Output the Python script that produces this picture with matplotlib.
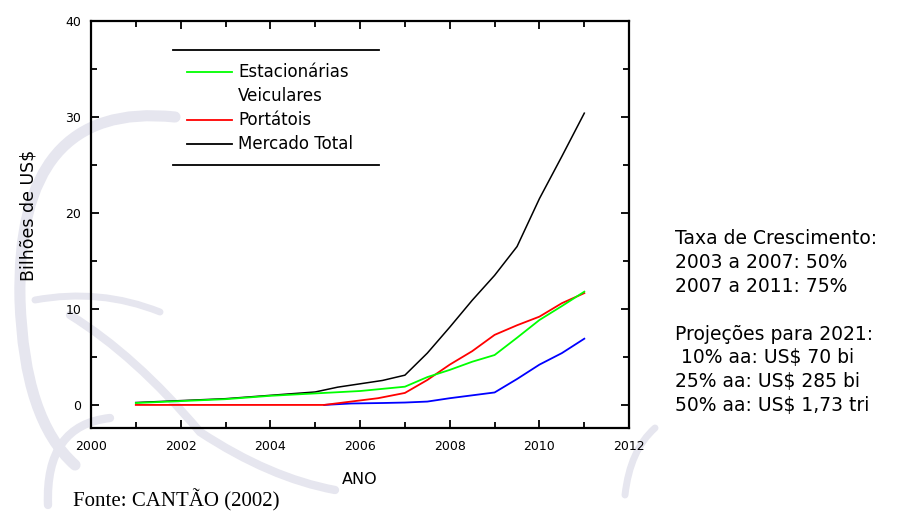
import matplotlib.pyplot as plt
from matplotlib.lines import Line2D
from matplotlib.patches import PathPatch
from matplotlib.path import Path
from matplotlib.ticker import MultipleLocator

# dados (bilhoes de US$)
anos_est = [2001, 2002, 2003, 2004, 2005, 2006, 2007, 2007.5, 2008, 2008.5, 2009, 2009.5, 2010, 2010.5, 2011]
estacionarias = [0.2, 0.4, 0.6, 0.95, 1.2, 1.45, 1.9, 2.9, 3.65, 4.5, 5.2, 7.0, 8.85, 10.3, 11.8]

anos_port = [2001, 2005.2, 2005.8, 2006.4, 2007, 2007.5, 2008, 2008.5, 2009, 2009.5, 2010, 2010.5, 2011]
portateis = [0, 0, 0.35, 0.7, 1.25, 2.6, 4.2, 5.6, 7.3, 8.3, 9.2, 10.6, 11.65]

anos_veic = [2005.2, 2005.8, 2006.5, 2007, 2007.5, 2008, 2008.5, 2009, 2009.5, 2010, 2010.5, 2011]
veiculares = [0, 0.15, 0.2, 0.25, 0.35, 0.7, 1.0, 1.3, 2.7, 4.2, 5.4, 6.9]

anos_total = [2001, 2002, 2003, 2004, 2005, 2005.5, 2006, 2006.5, 2007, 2007.5, 2008, 2008.5, 2009, 2009.5, 2010, 2010.5, 2011]
mercado_total = [0.25, 0.45, 0.65, 1.0, 1.35, 1.85, 2.2, 2.55, 3.1, 5.4, 8.1, 10.9, 13.5, 16.5, 21.5, 25.9, 30.4]

legenda = ['Estacionárias', 'Veiculares', 'Portátois', 'Mercado Total']

texto_lateral = ['Taxa de Crescimento:', '2003 a 2007: 50%', '2007 a 2011: 75%', '',
                 'Projeções para 2021:', ' 10% aa: US$ 70 bi', '25% aa: US$ 285 bi', '50% aa: US$ 1,73 tri']

fig = plt.figure(figsize=(8.97, 5.15), dpi=100)
H = 515

# marca d'agua (tracos curvos cinza claro), em pixels da figura
tracos = [
    ([(175, 117), (15, 100), (20, 300), (24, 420), (75, 465)], 8),
    ([(35, 300), (100, 288), (160, 312)], 5),
    ([(70, 315), (135, 355), (200, 432), (270, 478), (335, 490)], 6),
    ([(48, 505), (45, 425), (110, 418)], 6),
    ([(625, 495), (630, 450), (655, 428)], 5),
]
for pts, lw in tracos:
    pts = [(x, H - y) for x, y in pts]
    codes = [Path.MOVETO] + [Path.CURVE3] * (len(pts) - 1)
    pp = PathPatch(Path(pts, codes), fill=False, edgecolor='#e6e6ef', lw=lw,
                   capstyle='round', transform=None, zorder=-1)
    fig.patches.append(pp)

ax = fig.add_axes([0.1014, 0.169, 0.6, 0.7902])
ax.patch.set_alpha(0)

ax.plot(anos_total, mercado_total, color='black', lw=1.1, zorder=2)
ax.plot(anos_veic, veiculares, color='#0000ff', lw=1.3, zorder=3)
ax.plot(anos_port, portateis, color='#ff0000', lw=1.3, zorder=4)
ax.plot(anos_est, estacionarias, color='#00ff00', lw=1.3, zorder=5)

ax.set_xlim(2000, 2012)
ax.set_ylim(-2.4, 40)
ax.xaxis.set_major_locator(MultipleLocator(2))
ax.xaxis.set_minor_locator(MultipleLocator(1))
ax.yaxis.set_major_locator(MultipleLocator(10))
ax.yaxis.set_minor_locator(MultipleLocator(5))
ax.tick_params(which='both', direction='in', top=True, right=True, width=1.3, labelsize=9)
ax.tick_params(axis='x', pad=9)
ax.tick_params(axis='y', pad=7)
ax.tick_params(which='major', length=6)
ax.tick_params(which='minor', length=4)
for s in ax.spines.values():
    s.set_linewidth(1.6)

ax.set_xlabel('ANO', fontsize=11.5, labelpad=13)
ax.set_ylabel('Bilhões de US$', fontsize=12.5)
ax.yaxis.set_label_coords(-0.1, 0.523)

handles = [Line2D([], [], color='#00ff00', lw=1.3),
           Line2D([], [], color='none'),
           Line2D([], [], color='#ff0000', lw=1.3),
           Line2D([], [], color='black', lw=1.3)]
ax.legend(handles, legenda, loc='upper left', bbox_to_anchor=(0.166, 0.912), frameon=False,
          fontsize=12, handlelength=2.7, handletextpad=0.36, labelspacing=0.36, borderaxespad=0)
for yy in (0.929, 0.646):
    ax.add_line(Line2D([0.152, 0.535], [yy, yy], color='black', lw=1.3, transform=ax.transAxes))

y0 = 239
for i, linha in enumerate(texto_lateral):
    if linha:
        fig.text(675 / 897, 1 - (y0 + i * 23.8) / 515, linha, fontsize=13.5, va='center', ha='left')

fig.text(73 / 897, 1 - 500 / 515, 'Fonte: CANTÃO (2002)', fontsize=15, family='Liberation Serif',
         va='center', ha='left')

fig.savefig('out.png', dpi=100)
